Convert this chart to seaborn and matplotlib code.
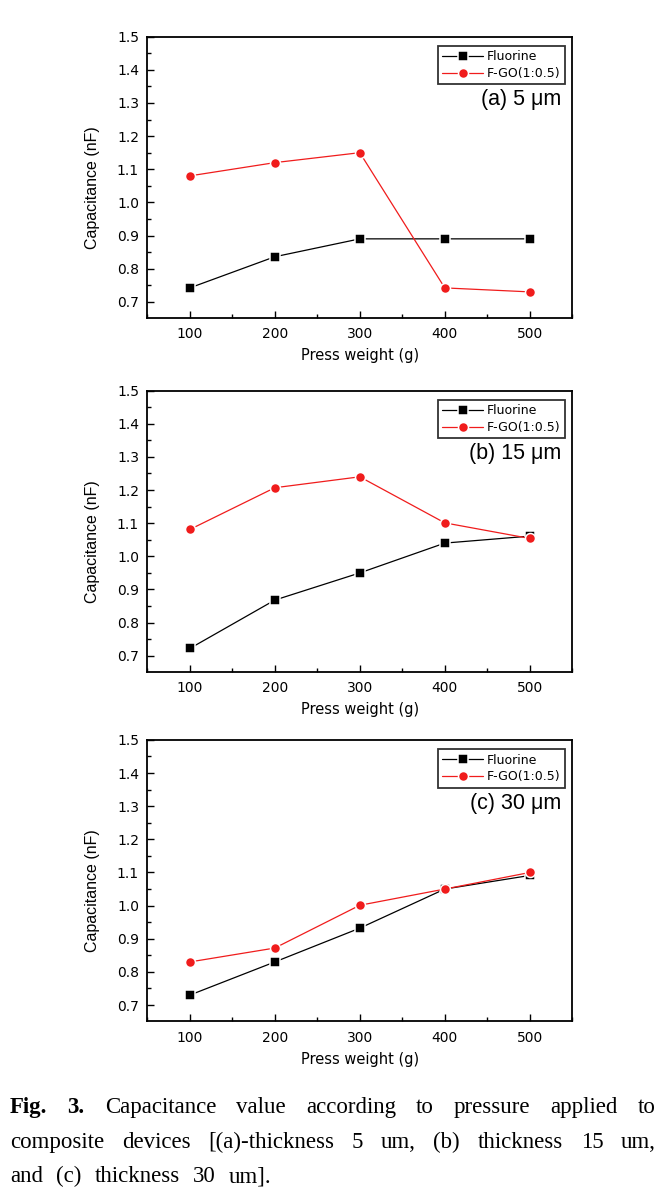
import pandas as pd
import seaborn as sns
import matplotlib.pyplot as plt
from matplotlib.ticker import MultipleLocator, FormatStrFormatter

# press weight (g)
weights = [100, 200, 300, 400, 500]

# capacitance (nF)
fluorine_5 = [0.742, 0.836, 0.890, 0.890, 0.890]
fgo_5 = [1.080, 1.120, 1.150, 0.742, 0.730]
fluorine_15 = [0.722, 0.868, 0.950, 1.040, 1.061]
fgo_15 = [1.081, 1.207, 1.240, 1.101, 1.054]
fluorine_30 = [0.730, 0.830, 0.932, 1.050, 1.091]
fgo_30 = [0.830, 0.872, 1.001, 1.050, 1.100]

panel_labels = ["(a) 5 μm", "(b) 15 μm", "(c) 30 μm"]
series_names = ["Fluorine", "F-GO(1:0.5)"]
y_ticks = [0.7, 0.8, 0.9, 1.0, 1.1, 1.2, 1.3, 1.4, 1.5]

caption_lines = [
    ["Fig.", "3.", "Capacitance", "value", "according", "to", "pressure", "applied", "to"],
    ["composite", "devices", "[(a)-thickness", "5", "um,", "(b)", "thickness", "15", "um,"],
    ["and", "(c)", "thickness", "30", "um]."],
]

sns.set_style("ticks")
plt.rcParams["font.family"] = ["DejaVu Sans"]
plt.rcParams["text.color"] = "black"
plt.rcParams["axes.labelcolor"] = "black"

panels = [(fluorine_5, fgo_5), (fluorine_15, fgo_15), (fluorine_30, fgo_30)]
bottoms = [0.735, 0.4398, 0.1485]

fig = plt.figure(figsize=(6.71, 11.99), dpi=100)

for (fl, fg), lab, b in zip(panels, panel_labels, bottoms):
    ax = fig.add_axes([0.2195, b, 0.6334, 0.2344])
    df = pd.DataFrame({"w": weights * 2, "c": fl + fg,
                       "s": [series_names[0]] * 5 + [series_names[1]] * 5})
    # white marker edge gives the small gap between line and marker
    sns.lineplot(data=df, x="w", y="c", hue="s", style="s",
                 palette={series_names[0]: "black", series_names[1]: "#f01c1c"},
                 markers={series_names[0]: "s", series_names[1]: "o"},
                 dashes=False, markersize=7.2, markeredgewidth=1.1,
                 markeredgecolor="white", linewidth=0.9, ax=ax)
    ax.set_xlim(50, 550)
    ax.set_ylim(0.652, 1.5)
    ax.set_xticks(weights)
    ax.set_yticks(y_ticks)
    ax.xaxis.set_minor_locator(MultipleLocator(50))
    ax.yaxis.set_minor_locator(MultipleLocator(0.05))
    ax.yaxis.set_major_formatter(FormatStrFormatter("%.1f"))
    ax.tick_params(which="both", direction="in", width=1, colors="black", labelsize=10)
    ax.tick_params(which="major", length=5)
    ax.tick_params(which="minor", length=3)
    ax.tick_params(axis="x", pad=7)
    ax.tick_params(axis="y", pad=6)
    for sp in ax.spines.values():
        sp.set_linewidth(1.3)
        sp.set_color("black")
    ax.set_xlabel("Press weight (g)", fontsize=10.5)
    ax.set_ylabel("Capacitance (nF)", fontsize=11.5, family="Liberation Sans")
    ax.xaxis.set_label_coords(0.5005, -0.136)
    ax.yaxis.set_label_coords(-0.128, 0.462)
    ax.xaxis.label.set_va("center")
    ax.yaxis.label.set_va("center")
    leg = ax.legend(loc="upper right", bbox_to_anchor=(0.983, 0.967), fontsize=9,
                    frameon=True, fancybox=False, handlelength=3.3, handletextpad=0.3,
                    borderpad=0.35, labelspacing=0.3, borderaxespad=0)
    leg.get_frame().set_edgecolor("black")
    leg.get_frame().set_linewidth(1.3)
    ax.text(0.975, 0.775, lab, transform=ax.transAxes, ha="right", va="center",
            fontsize=15.5, family="Liberation Sans")

# justified caption, word by word
fig.canvas.draw()
renderer = fig.canvas.get_renderer()
x_left, x_right = 10, 656
baselines = [1113, 1148, 1182]
W, H = 671, 1199
for i, (words, yb) in enumerate(zip(caption_lines, baselines)):
    texts = []
    for j, wd in enumerate(words):
        bold = i == 0 and j < 2
        t = fig.text(0, 1 - yb / H, wd, fontsize=16.5, family="Liberation Serif",
                     fontweight="bold" if bold else "normal", va="baseline", ha="left")
        texts.append(t)
    widths = [t.get_window_extent(renderer).width for t in texts]
    if i < len(caption_lines) - 1:
        gap = (x_right - x_left - sum(widths)) / (len(words) - 1)
    else:
        gap = 13
    x = x_left
    for t, wdt in zip(texts, widths):
        t.set_x(x / W)
        x += wdt + gap

fig.savefig("out.png", dpi=100)
